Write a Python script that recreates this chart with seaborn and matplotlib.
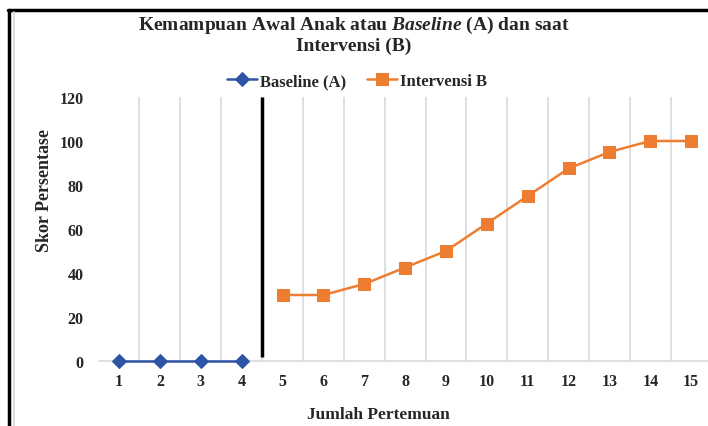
import matplotlib
matplotlib.use("Agg")
import matplotlib.pyplot as plt
from matplotlib.lines import Line2D
import seaborn as sns
import pandas as pd

# DATA ===========================================================================
sesi_baseline = [1, 2, 3, 4]
skor_baseline = [0, 0, 0, 0]
sesi_intervensi = [5, 6, 7, 8, 9, 10, 11, 12, 13, 14, 15]
skor_intervensi = [30, 30, 35, 42.5, 50, 62.5, 75, 87.5, 95, 100, 100]
batas_fase = 4.5
label_a = "Baseline (A)"
label_b = "Intervensi B"

data_a = pd.DataFrame({"Sesi": sesi_baseline, "Skor": skor_baseline})
data_b = pd.DataFrame({"Sesi": sesi_intervensi, "Skor": skor_intervensi})

# STYLE ==========================================================================
sns.set_style("white")
plt.rcParams["font.family"] = ["Liberation Serif", "DejaVu Serif"]
plt.rcParams["font.weight"] = "bold"
plt.rcParams["mathtext.fontset"] = "custom"
plt.rcParams["mathtext.rm"] = "Liberation Serif:bold"
plt.rcParams["mathtext.it"] = "Liberation Serif:italic:bold"

blue = "#2E55A5"
orange = "#ED7D31"
grid_gray = "#D9D9D9"

fig = plt.figure(figsize=(7.08, 4.27), dpi=100)
ax = fig.add_axes([98.6 / 708, 1 - 362 / 427, 613 / 708, 264 / 427])

sns.lineplot(data=data_a, x="Sesi", y="Skor", ax=ax, color=blue, marker="D",
             markersize=7, markeredgecolor=blue, linewidth=1.8, label=label_a)
sns.lineplot(data=data_b, x="Sesi", y="Skor", ax=ax, color=orange, marker="s",
             markersize=8, markeredgecolor=orange, linewidth=1.8, label=label_b)
for line in ax.lines:
    line.set_clip_on(False)
    line.set_zorder(5)
ax.vlines(batas_fase, 2, 120, color="black", linewidth=2.5, zorder=1)

ax.set_xlim(0.5, 15.5)
ax.set_ylim(0, 120)
ax.set_xticks(sesi_baseline + sesi_intervensi)
ax.set_xticks([s + 0.5 for s in (sesi_baseline + sesi_intervensi)[:-1]], minor=True)
ax.set_yticks(range(0, 121, 20))
ax.grid(False)
ax.grid(True, which="minor", axis="x", color=grid_gray, linewidth=1.2)
ax.tick_params(axis="both", which="both", length=0, labelsize=11.5)
ax.tick_params(axis="x", pad=9)
ax.tick_params(axis="y", pad=11)
for side in ["top", "right", "left"]:
    ax.spines[side].set_visible(False)
ax.spines["bottom"].set_color(grid_gray)
ax.spines["bottom"].set_linewidth(1.2)
ax.spines["bottom"].set_zorder(0.5)

ax.set_xlabel("Jumlah Pertemuan", fontsize=12.5, fontweight="bold")
ax.set_ylabel("Skor Persentase", fontsize=13, fontweight="bold")
ax.xaxis.set_label_coords(0.457, -0.17)
ax.yaxis.set_label_coords(-0.075, 0.65)

leg = ax.legend(loc="center", bbox_to_anchor=(357 / 708, 1 - 82 / 427),
                bbox_transform=fig.transFigure, ncol=2, frameon=False,
                fontsize=12, handlelength=1.8, handletextpad=0.2, columnspacing=1.2)

fig.text(0.5, 1 - 25 / 427, r"Kemampuan Awal Anak atau $\mathit{Baseline}$ (A) dan saat",
         ha="center", va="center", fontsize=14, fontweight="bold")
fig.text(0.5, 1 - 46 / 427, "Intervensi (B)",
         ha="center", va="center", fontsize=14, fontweight="bold")

# frame of the screenshot
fig.add_artist(Line2D([8 / 708, 1], [1 - 11 / 427] * 2, transform=fig.transFigure,
                      color="black", linewidth=2.5))
fig.add_artist(Line2D([9 / 708] * 2, [0, 1 - 11 / 427], transform=fig.transFigure,
                      color="black", linewidth=2.5))
fig.add_artist(Line2D([14.5 / 708] * 2, [0, 1 - 13 / 427], transform=fig.transFigure,
                      color=grid_gray, linewidth=1.2))

fig.savefig("out.png", dpi=100)
